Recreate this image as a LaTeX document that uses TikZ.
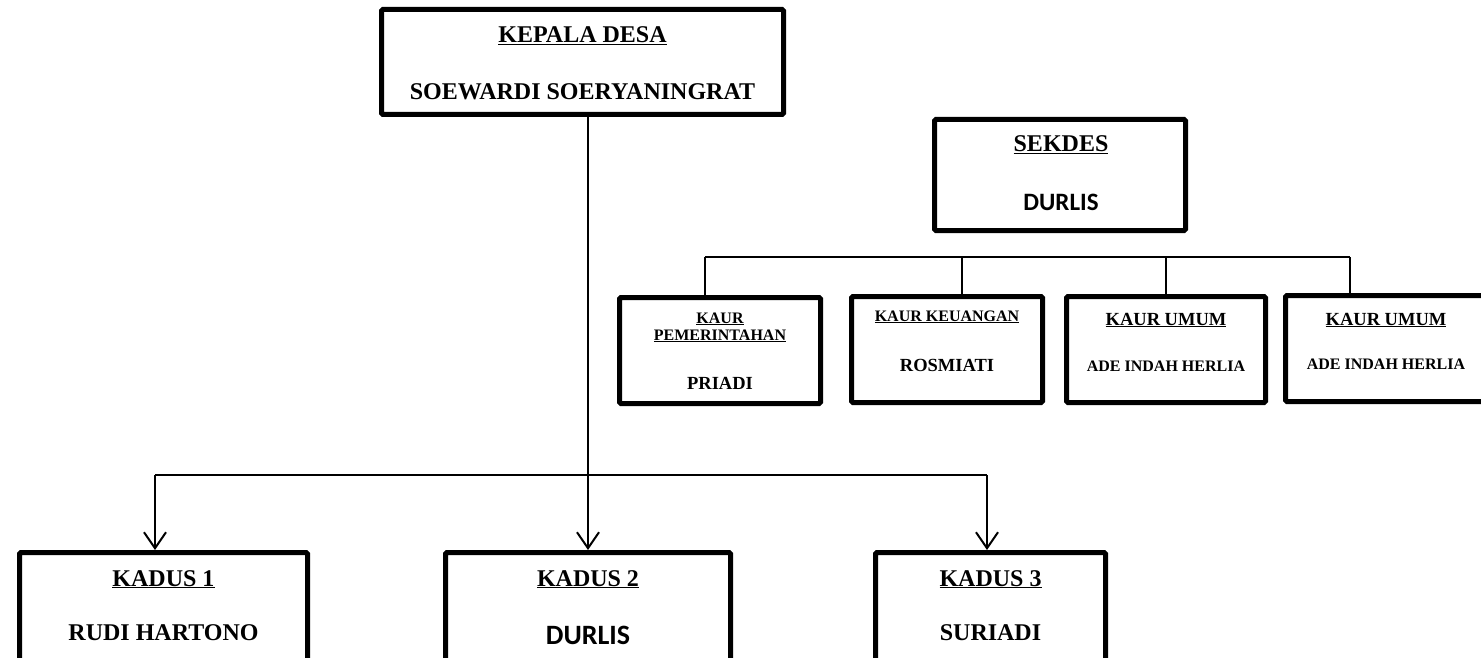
\documentclass[tikz,border=0pt]{standalone}
\usepackage{fontspec}
\setmainfont{Liberation Serif}
\newfontfamily\calfont{Carlito}
\usetikzlibrary{arrows.meta}
\begin{document}
\begin{tikzpicture}[x=1pt,y=-1pt,
  box/.style={draw=black,line width=5pt,rounded corners=1.5pt,inner sep=0pt},
  txt/.style={anchor=base,inner sep=0pt,font=\bfseries},
  conn/.style={draw=black,line width=2pt},
  thin conn/.style={draw=black,line width=1.5pt},
  arr/.style={conn,-{Straight Barb[length=16pt,width=22pt]}}]
\useasboundingbox (0,0) rectangle (1481,658);
\clip (0,0) rectangle (1481,658);
\fill[white] (0,0) rectangle (1481,658);
% boxes
\node[box,minimum width=402pt,minimum height=105pt] (kep) at (582.5,62) {};
\node[box,minimum width=251pt,minimum height=111pt] (sek) at (1060,175) {};
\node[box,minimum width=201pt,minimum height=106pt] (k1) at (720,350.5) {};
\node[box,minimum width=191pt,minimum height=106pt] (k2) at (947,349.5) {};
\node[box,minimum width=199pt,minimum height=106pt] (k3) at (1166,349.5) {};
\node[box,minimum width=201pt,minimum height=106pt] (k4) at (1386,348.5) {};
\node[box,minimum width=288pt,minimum height=125pt] (d1) at (163.5,615) {};
\node[box,minimum width=285pt,minimum height=125pt] (d2) at (588,615) {};
\node[box,minimum width=230pt,minimum height=125pt] (d3) at (990.5,615) {};
% texts
\node[txt,font=\bfseries\fontsize{24}{28}\selectfont] (kept) at (582.5,43) {\underline{KEPALA DESA}};
\node[txt,font=\bfseries\fontsize{24}{28}\selectfont] (kepn) at (582.5,100) {SOEWARDI SOERYANINGRAT};
\node[txt,font=\bfseries\fontsize{24}{28}\selectfont] (sekt) at (1061,152) {\underline{SEKDES}};
\node[txt,font=\calfont\bfseries\fontsize{25}{30}\selectfont] (sekn) at (1061,211) {DURLIS};
\node[txt,font=\bfseries\fontsize{16}{19}\selectfont] (k1a) at (720,323) {\underline{KAUR}};
\node[txt,font=\bfseries\fontsize{16}{19}\selectfont] (k1b) at (720,340) {\underline{PEMERINTAHAN}};
\node[txt,font=\bfseries\fontsize{18.5}{22}\selectfont] (k1n) at (720,389) {PRIADI};
\node[txt,font=\bfseries\fontsize{16}{19}\selectfont] (k2t) at (947,321) {\underline{KAUR KEUANGAN}};
\node[txt,font=\bfseries\fontsize{18.5}{22}\selectfont] (k2n) at (947,371) {ROSMIATI};
\node[txt,font=\bfseries\fontsize{18.5}{22}\selectfont] (k3t) at (1166,325) {\underline{KAUR UMUM}};
\node[txt,font=\bfseries\fontsize{16}{19}\selectfont] (k3n) at (1166,371) {ADE INDAH HERLIA};
\node[txt,font=\bfseries\fontsize{18.5}{22}\selectfont] (k4t) at (1386,325) {\underline{KAUR UMUM}};
\node[txt,font=\bfseries\fontsize{16}{19}\selectfont] (k4n) at (1386,369) {ADE INDAH HERLIA};
\node[txt,font=\bfseries\fontsize{24}{28}\selectfont] (d1t) at (163.5,586) {\underline{KADUS 1}};
\node[txt,font=\bfseries\fontsize{24}{28}\selectfont] (d1n) at (163.5,640) {RUDI HARTONO};
\node[txt,font=\bfseries\fontsize{24}{28}\selectfont] (d2t) at (588,586) {\underline{KADUS 2}};
\node[txt,font=\calfont\bfseries\fontsize{28}{32}\selectfont] (d2n) at (588,644) {DURLIS};
\node[txt,font=\bfseries\fontsize{24}{28}\selectfont] (d3t) at (990.5,586) {\underline{KADUS 3}};
\node[txt,font=\bfseries\fontsize{24}{28}\selectfont] (d3n) at (990.5,640) {SURIADI};
% connectors: Kepala to Kadus
\coordinate (b1) at (155,475);
\coordinate (b3) at (987,475);
\draw[conn] (b1) -- (b3);
\draw[arr] (d2.north |- kep.south) -- (d2.north);
\draw[arr] (b1) -- (b1 |- d1.north);
\draw[arr] (b3) -- (b3 |- d3.north);
% Kaur bus
\coordinate (s1) at (705,257);
\coordinate (s2) at (962,257);
\coordinate (s3) at (1166,257);
\coordinate (s4) at (1350,257);
\draw[thin conn] (s1) -- (s4);
\draw[thin conn] (s1) -- (s1 |- k1.north);
\draw[thin conn] (s2) -- (s2 |- k2.north);
\draw[thin conn] (s3) -- (s3 |- k3.north);
\draw[thin conn] (s4) -- (s4 |- k4.north);
\end{tikzpicture}
\end{document}
